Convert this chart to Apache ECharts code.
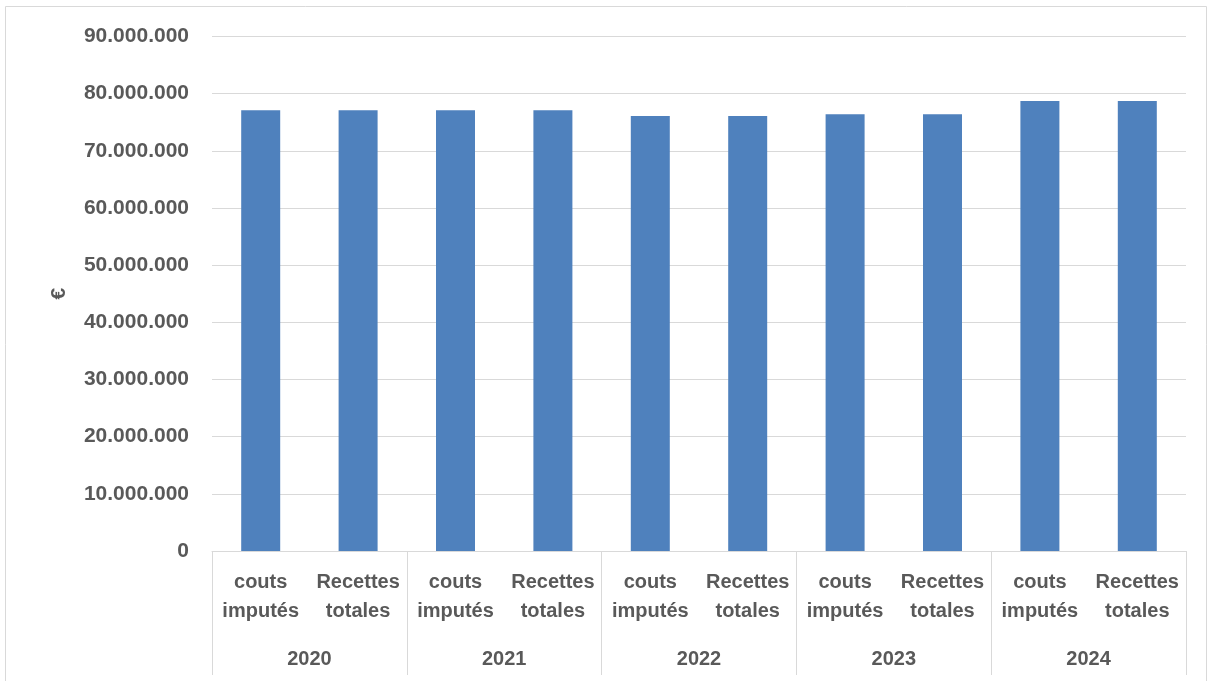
<!DOCTYPE html>
<html>
<head>
<meta charset="utf-8">
<script src="https://cdn.jsdelivr.net/npm/echarts@6/dist/echarts.min.js"></script>
<style>
html,body{margin:0;padding:0;background:#fff;}
#chart{width:1212px;height:681px;}
</style>
</head>
<body>
<div id="chart"></div>
<script>
const categories = ['couts\nimputés','Recettes\ntotales','couts\nimputés','Recettes\ntotales','couts\nimputés','Recettes\ntotales','couts\nimputés','Recettes\ntotales','couts\nimputés','Recettes\ntotales'];
const years = ['2020','2021','2022','2023','2024'];
const values = [77100000, 77100000, 77100000, 77100000, 76100000, 76100000, 76400000, 76400000, 78700000, 78700000];
const yTicks = { min: 0, max: 90000000, interval: 10000000 };
const yName = '€';

const textColor = '#595959';
const font = 'Liberation Sans, Arial, sans-serif';
const chart = echarts.init(document.getElementById('chart'));
function fmt(v){ return String(v).replace(/\B(?=(\d{3})+(?!\d))/g, '.'); }
chart.setOption({
  animation: false,
  graphic: [{
    type: 'rect', shape: {x: 5.5, y: 6.5, width: 1201, height: 700},
    style: {fill: 'none', stroke: '#d9d9d9', lineWidth: 1}, silent: true, z: -1
  }],
  grid: {left: 212, right: 26, top: 36.5, bottom: 130, containLabel: false},
  xAxis: [{
    type: 'category', data: categories, position: 'bottom',
    axisLine: {show: true, lineStyle: {color: '#d9d9d9', width: 1}},
    axisTick: {show: false},
    axisLabel: {interval: 0, margin: 17, color: textColor, fontFamily: font, fontWeight: 'bold', fontSize: 20, lineHeight: 29, align: 'center'}
  }, {
    type: 'category', data: years, position: 'bottom',
    axisLine: {show: false},
    axisTick: {show: true, length: 124, lineStyle: {color: '#d9d9d9', width: 1}},
    axisLabel: {interval: 0, margin: 94, color: textColor, fontFamily: font, fontWeight: 'bold', fontSize: 20, lineHeight: 28}
  }],
  yAxis: {
    type: 'value', min: yTicks.min, max: yTicks.max, interval: yTicks.interval,
    name: yName, nameLocation: 'middle', nameRotate: 90, nameGap: 142,
    nameTextStyle: {color: textColor, fontFamily: font, fontWeight: 'bold', fontSize: 21},
    axisLine: {show: false}, axisTick: {show: false},
    splitLine: {lineStyle: {color: '#d9d9d9', width: 1}},
    axisLabel: {margin: 23, color: textColor, fontFamily: font, fontWeight: 'bold', fontSize: 21, formatter: fmt}
  },
  series: [{
    type: 'bar', data: values, xAxisIndex: 0, barWidth: 39,
    itemStyle: {color: '#4f81bd'}
  }]
});
</script>
</body>
</html>
